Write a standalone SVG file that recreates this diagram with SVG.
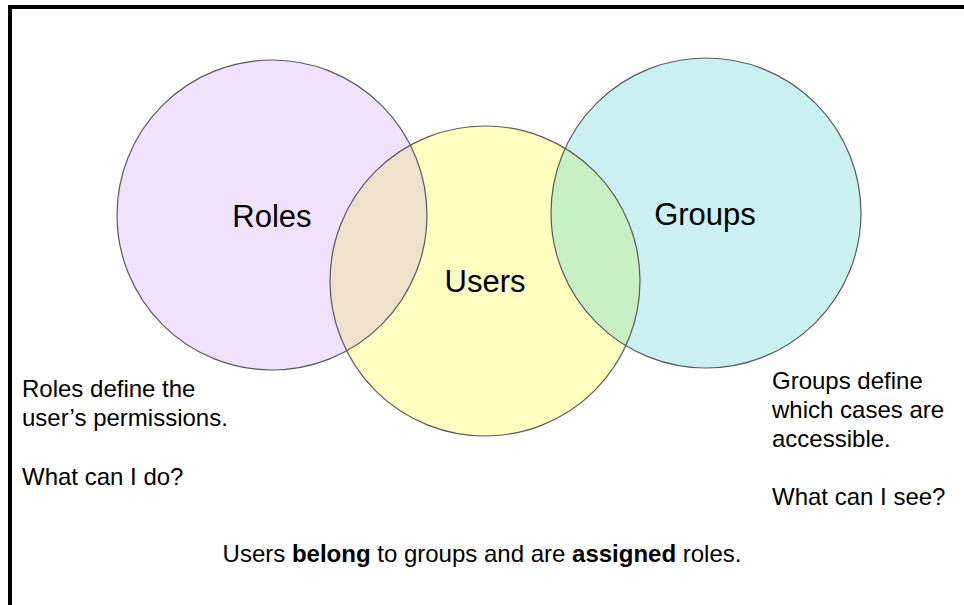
<svg xmlns="http://www.w3.org/2000/svg" width="964" height="605" viewBox="0 0 964 605">
<style>
.c{stroke:#5a5a5a;stroke-width:1.2;}
.lbl{font-family:"Liberation Sans",Arial,sans-serif;font-size:31px;fill:#000;text-anchor:middle;}
.t{font-family:"Liberation Sans",Arial,sans-serif;font-size:24px;fill:#000;}
.b{font-weight:bold;}
</style>
<defs>
<clipPath id="clipRoles"><circle cx="272" cy="215" r="155"/></clipPath>
<clipPath id="clipGroups"><circle cx="706" cy="213" r="155"/></clipPath>
</defs>
<rect x="0" y="0" width="964" height="605" fill="#fff"/>
<g id="border">
<rect x="8" y="5" width="956" height="4" fill="#000"/>
<rect x="8" y="5" width="4" height="600" fill="#000"/>
</g>
<g id="fills">
<circle cx="272" cy="215" r="155" fill="#F0E2FC"/>
<circle cx="706" cy="213" r="155" fill="#CAF0F1"/>
<circle cx="485" cy="281" r="155" fill="#FFFFC0"/>
<circle cx="485" cy="281" r="155" fill="#EFE1CC" clip-path="url(#clipRoles)"/>
<circle cx="485" cy="281" r="155" fill="#C9EFC4" clip-path="url(#clipGroups)"/>
</g>
<g id="roles">
<circle class="c" cx="272" cy="215" r="155" fill="none"/>
<text class="lbl" x="272" y="227">Roles</text>
</g>
<g id="users">
<circle class="c" cx="485" cy="281" r="155" fill="none"/>
<text class="lbl" x="485" y="292">Users</text>
</g>
<g id="groups">
<circle class="c" cx="706" cy="213" r="155" fill="none"/>
<text class="lbl" x="705" y="225">Groups</text>
</g>
<g id="connectors"></g>
<g id="roles-note">
<text class="t" x="22" y="397">Roles define the</text>
<text class="t" x="22" y="426">user’s permissions.</text>
<text class="t" x="22" y="485">What can I do?</text>
</g>
<g id="groups-note">
<text class="t" x="772" y="389">Groups define</text>
<text class="t" x="772" y="418">which cases are</text>
<text class="t" x="772" y="447">accessible.</text>
<text class="t" x="772" y="505">What can I see?</text>
</g>
<g id="caption">
<text class="t" x="482" y="562" text-anchor="middle">Users <tspan class="b">belong</tspan> to groups and are <tspan class="b">assigned</tspan> roles.</text>
</g>
</svg>
